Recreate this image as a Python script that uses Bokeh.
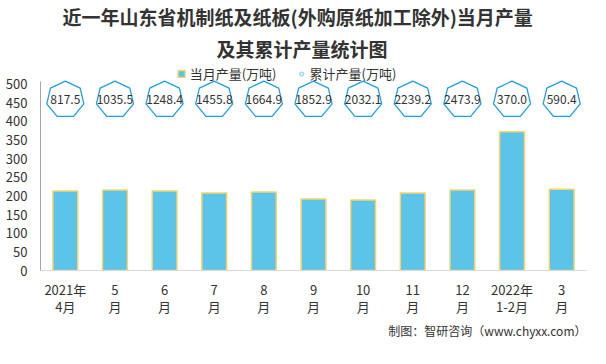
import numpy as np
from bokeh.plotting import figure
from bokeh.models import (ColumnDataSource, FixedTicker, Legend, LegendItem, Range1d, Title)
from bokeh.core.properties import value
from bokeh.embed import file_html
from bokeh.resources import INLINE

# ---- data ----
months = ["2021年\n4月", "5\n月", "6\n月", "7\n月", "8\n月", "9\n月", "10\n月",
          "11\n月", "12\n月", "2022年\n1-2月", "3\n月"]
monthly = [213, 215.6, 213, 208, 210.6, 191.5, 189, 208, 215.6, 372, 218]
cumulative = [817.5, 1035.5, 1248.4, 1455.8, 1664.9, 1852.9, 2032.1, 2239.2, 2473.9, 370.0, 590.4]
y_ticks = [0, 50, 100, 150, 200, 250, 300, 350, 400, 450, 500]

title1 = "近一年山东省机制纸及纸板(外购原纸加工除外)当月产量"
title2 = "及其累计产量统计图"
series1 = "当月产量(万吨)"
series2 = "累计产量(万吨)"
source_note = "制图：智研咨询（www.chyxx.com）"

FONT = "Noto Sans CJK SC"
W, H = 590, 348
BL, BR, BT, BB = 40, 4, 59, 78
Y_END = 552.5
AXIS_TOP = 508
MARK_LEVEL = 458  # vertical level where cumulative markers sit

xs = list(range(len(months)))
src = ColumnDataSource(dict(x=xs, m=monthly, c=cumulative,
                            ct=[f"{v:.1f}" for v in cumulative],
                            lvl=[MARK_LEVEL] * len(xs)))

p = figure(width=W, height=H, output_backend="svg", toolbar_location=None, title=None,
           x_range=Range1d(-0.5, len(months) - 0.5), y_range=Range1d(0, Y_END),
           min_border_left=BL, min_border_right=BR, min_border_top=BT, min_border_bottom=BB)
p.outline_line_color = None
p.xgrid.visible = False
p.ygrid.visible = False
p.background_fill_color = "white"

bars = p.vbar(x="x", top="m", width=0.5, source=src, fill_color="#5bc4e8",
              line_color="#f8d36c", line_width=1.5)

# heptagon markers
fw = W - BL - BR
fh = H - BT - BB
px_x = fw / (len(months))
px_y = fh / Y_END
R = 19
ang = np.pi / 2 + np.arange(7) * 2 * np.pi / 7
hx = [list(i + R * np.cos(ang) / px_x) for i in xs]
hy = [list(MARK_LEVEL + R * np.sin(ang) / px_y) for _ in xs]
p.patches(hx, hy, fill_color="white", fill_alpha=0.0, line_color="#1f9fe0", line_width=1.3)
p.text(x="x", y="lvl", text="ct", source=src, text_align="center", text_baseline="middle",
       text_font=value(FONT), text_font_size="12px", text_color="#333333")

circ = p.scatter(x="x", y="lvl", source=src, marker="circle", size=0,
                 fill_color="white", line_color="#9fd8f0", line_width=1.5)
# invisible spacer entry so the visible legend sits slightly left of the frame centre
spacer = p.scatter(x="x", y="lvl", source=src, marker="circle", size=0,
                   fill_alpha=0, line_alpha=0)

legend = Legend(items=[LegendItem(label=series1, renderers=[bars]),
                       LegendItem(label=series2, renderers=[circ]),
                       LegendItem(label=" ", renderers=[spacer])],
                orientation="horizontal", location="top_center",
                background_fill_alpha=0, border_line_color=None,
                label_text_font=FONT, label_text_font_size="13px", label_text_color="#333333",
                glyph_width=9, glyph_height=9, spacing=20, padding=0, margin=0,
                label_standoff=4, label_height=14)
p.add_layout(legend, "center")

# axes
p.yaxis.ticker = FixedTicker(ticks=y_ticks)
p.yaxis.bounds = (0, AXIS_TOP)
p.yaxis.axis_line_color = "#a6a6a6"
p.yaxis.major_tick_line_color = None
p.yaxis.minor_tick_line_color = None
p.yaxis.major_tick_out = 0
p.yaxis.major_tick_in = 0
p.yaxis.major_label_text_font = FONT
p.yaxis.major_label_text_font_size = "13px"
p.yaxis.major_label_text_color = "#333333"
p.yaxis.major_label_standoff = 13

p.xaxis.ticker = FixedTicker(ticks=xs)
p.xaxis.major_label_overrides = {i: m for i, m in enumerate(months)}
p.xaxis.axis_line_color = "#d9d9d9"
p.xaxis.major_tick_line_color = None
p.xaxis.minor_tick_line_color = None
p.xaxis.major_tick_out = 0
p.xaxis.major_tick_in = 0
p.xaxis.major_label_text_font = FONT
p.xaxis.major_label_text_font_size = "13px"
p.xaxis.major_label_text_line_height = 0.9
p.xaxis.major_label_text_color = "#333333"
p.xaxis.major_label_standoff = 9

# titles (first added sits closest to the plot)
p.add_layout(Title(text=title2, align="left", offset=176, text_font=FONT, text_font_size="19px",
                   text_font_style="bold", text_color="#333333", text_line_height=0.9,
                   standoff=6), "above")
p.add_layout(Title(text=title1, align="left", offset=22, text_font=FONT, text_font_size="19px",
                   text_font_style="bold", text_color="#333333", text_line_height=0.9,
                   standoff=0), "above")

# source note
p.add_layout(Title(text=source_note, align="right", text_font=FONT, text_font_size="12px",
                   text_font_style="normal", text_color="#333333", text_line_height=1.0,
                   standoff=2), "below")

open("out.html", "w").write(file_html(p, INLINE))
